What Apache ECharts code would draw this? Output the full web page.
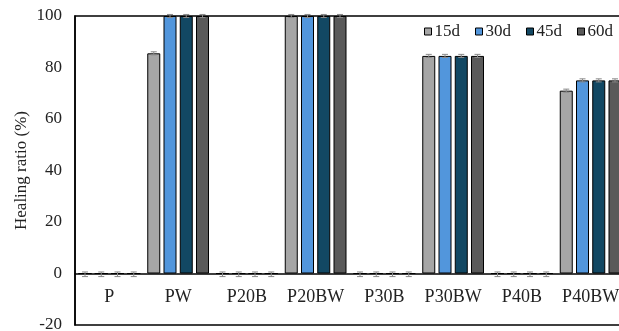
<!DOCTYPE html>
<html>
<head>
<meta charset="utf-8">
<script src="https://cdn.jsdelivr.net/npm/echarts@6/dist/echarts.min.js"></script>
<style>
  html, body { margin: 0; padding: 0; background: #fff; }
  #chart { width: 619px; height: 331px; }
</style>
</head>
<body>
<div id="chart"></div>
<script>
// data
const groups = ['P', 'PW', 'P20B', 'P20BW', 'P30B', 'P30BW', 'P40B', 'P40BW'];
const seriesNames = ['15d', '30d', '45d', '60d'];
const d15 = [0, 85.5, 0, 100, 0, 84.5, 0, 71];
const d30 = [0, 100, 0, 100, 0, 84.5, 0, 75];
const d45 = [0, 100, 0, 100, 0, 84.5, 0, 75];
const d60 = [0, 100, 0, 100, 0, 84.5, 0, 75];
const errs = [0.6, 0.6, 0.6, 0.6];
const yTicks = { min: -20, max: 100, step: 20 };

const colors = ['#a6a6a6', '#5296dc', '#124863', '#5a5a5a'];
const allData = [d15, d30, d45, d60];
const barW = 13;
const gapPx = 3.25;
const font = 'Liberation Serif';

const chart = echarts.init(document.getElementById('chart'));

const bars = allData.map((arr, k) => ({
  name: seriesNames[k],
  type: 'bar',
  data: arr,
  barWidth: barW,
  barGap: '25%',
  itemStyle: { color: colors[k], borderColor: '#000', borderWidth: 1 },
  z: 2
}));

// error bars drawn on top of the bars
const errSeries = allData.map((arr, k) => ({
  type: 'custom',
  name: 'err' + k,
  data: arr.map((v, i) => [i, v]),
  z: 5,
  silent: true,
  renderItem: function (params, api) {
    const i = api.value(0), v = api.value(1);
    const off = (k - 1.5) * (barW + gapPx);
    const top = api.coord([i, v + errs[k]]);
    const bot = api.coord([i, v - errs[k] - (v === 0 ? 0.6 : 0)]);
    const x = top[0] + off;
    const c = 3;
    const st = { stroke: '#8a8a8a', lineWidth: 1 };
    return {
      type: 'group',
      children: [
        { type: 'line', shape: { x1: x, y1: top[1], x2: x, y2: bot[1] }, style: st },
        { type: 'line', shape: { x1: x - c, y1: top[1], x2: x + c, y2: top[1] }, style: st },
        { type: 'line', shape: { x1: x - c, y1: bot[1], x2: x + c, y2: bot[1] }, style: st }
      ]
    };
  }
}));

const option = {
  animation: false,
  textStyle: { fontFamily: font },
  grid: {
    left: 75, right: -6, top: 16, bottom: 6,
    outerBoundsMode: 'none',
    show: true, borderColor: '#000', borderWidth: 1.5, backgroundColor: 'transparent'
  },
  legend: {
    data: seriesNames.map((n, k) => ({ name: n, itemStyle: { color: colors[k], borderColor: '#000', borderWidth: 1 } })),
    top: 18, right: 1,
    itemWidth: 7, itemHeight: 7, itemGap: 15,
    icon: 'rect',
    textStyle: { fontFamily: font, fontSize: 17, color: '#222', padding: [0, 0, 0, -2] }
  },
  xAxis: {
    type: 'category',
    data: groups,
    axisLine: { onZero: true, lineStyle: { color: '#000', width: 1.5 } },
    axisTick: { show: false },
    axisLabel: { fontFamily: font, fontSize: 18, color: '#222', margin: -36.5, interval: 0, hideOverlap: false }
  },
  yAxis: {
    type: 'value',
    min: yTicks.min, max: yTicks.max, interval: yTicks.step,
    name: 'Healing ratio (%)',
    nameLocation: 'middle',
    nameGap: 45,
    nameMoveOverlap: false,
    nameTextStyle: { fontFamily: font, fontSize: 17, color: '#222' },
    axisLine: { show: true, lineStyle: { color: '#000', width: 1.5 } },
    axisTick: { show: false },
    splitLine: { show: false },
    axisLabel: { fontFamily: font, fontSize: 17, color: '#222', margin: 13 }
  },
  series: bars.concat(errSeries)
};

chart.setOption(option);
</script>
</body>
</html>
